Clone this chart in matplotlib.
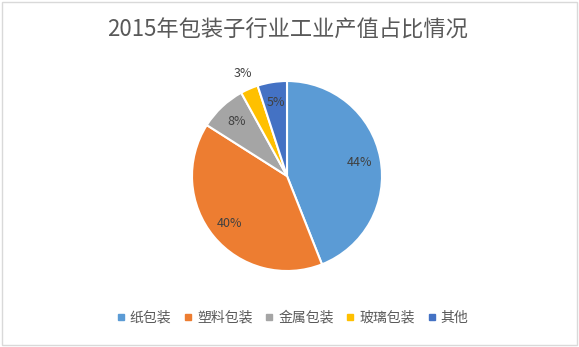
import matplotlib
matplotlib.use("Agg")
import matplotlib.pyplot as plt
from matplotlib.lines import Line2D
from matplotlib.patches import Rectangle

plt.rcParams['font.family'] = ['Noto Sans CJK SC', 'DejaVu Sans']

title = "2015年包装子行业工业产值占比情况"
categories = ["纸包装", "塑料包装", "金属包装", "玻璃包装", "其他"]
values = [44, 40, 8, 3, 5]
colors = ["#5B9BD5", "#ED7D31", "#A5A5A5", "#FFC000", "#4472C4"]

W, H = 579, 347
fig = plt.figure(figsize=(W / 100, H / 100), dpi=100)
fig.patch.set_facecolor("white")
fig.add_artist(Rectangle((0.004, 0.006), 0.992, 0.988, transform=fig.transFigure,
                         fill=False, edgecolor="#D9D9D9", linewidth=1))

cx, cy, r = 287 / W, 1 - 176 / H, 95
ax = fig.add_axes([cx - r / W, cy - r / H, 2 * r / W, 2 * r / H])
wedges, texts, autotexts = ax.pie(
    values, colors=colors, startangle=90, counterclock=False,
    autopct="%d%%", pctdistance=0.78,
    wedgeprops=dict(edgecolor="white", linewidth=1.5),
    textprops=dict(color="#404040", fontsize=9))
# small slice label outside
px, py = autotexts[3].get_position()
autotexts[3].set_position((px / 0.78 * 1.17, py / 0.78 * 1.17))
ax.set_xlim(-1, 1)
ax.set_ylim(-1, 1)
ax.set_aspect("equal")
ax.axis("off")

fig.text(0.497, 1 - 30 / H, title, ha="center", va="center", fontsize=16, color="#595959")

handles = [Line2D([0], [0], marker="s", linestyle="none", markersize=4,
                  markerfacecolor=c, markeredgecolor=c) for c in colors]
fig.legend(handles, categories, loc="center", bbox_to_anchor=(0.505, 1 - 318 / H),
           ncol=5, frameon=False, fontsize=10, labelcolor="#595959",
           handlelength=0.6, handletextpad=0.35, columnspacing=0.9)

fig.savefig("out.png", dpi=100)
